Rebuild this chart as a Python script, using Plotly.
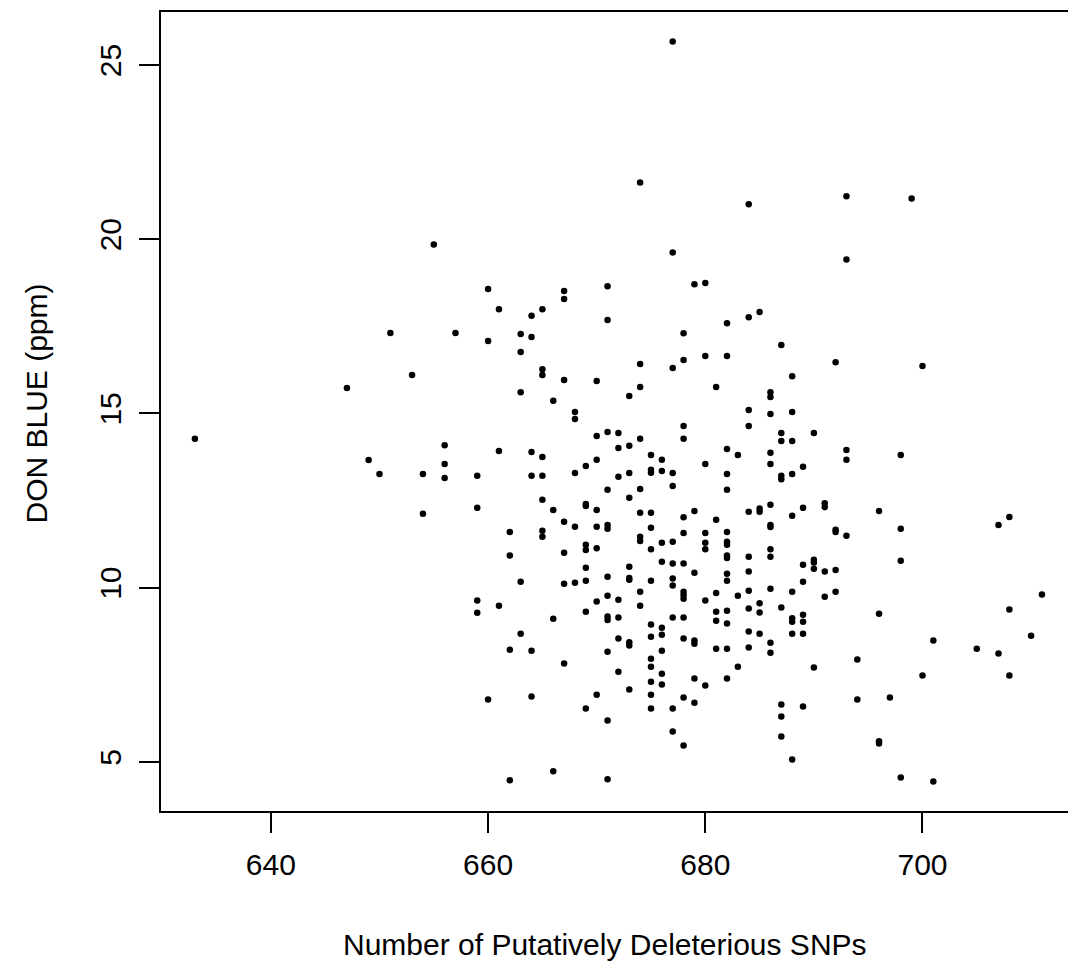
import plotly.graph_objects as go

# Number of putatively deleterious SNPs (x) and DON BLUE ppm (y)
snps = [
    655, 677, 674, 684, 677, 693, 699, 693,
    651, 657, 653, 647, 633, 656, 649, 656, 650, 654, 656, 654,
    660, 667, 667, 671, 679, 680, 661, 665, 664, 671, 684, 685, 682, 663, 664, 678, 660, 663,
    674, 677, 678, 680, 682, 665, 665, 667, 670, 681, 674, 673, 663, 666, 668, 668, 684, 684,
    678, 678, 670, 671, 672, 672, 673, 674, 661, 664, 665, 682, 683, 675, 676, 680, 670, 669,
    668, 659, 664, 665, 673, 672, 675, 675, 676, 677, 682, 674, 677, 671, 682, 673, 665, 659,
    666, 669, 669, 670, 674, 675, 678, 679, 684, 685, 685, 681, 667, 668, 670, 671, 671, 662,
    665, 665, 675, 678, 680, 682, 674, 674, 676, 677, 680, 682, 682, 669, 670, 675, 680,
    662, 667, 682, 682, 684, 669, 669, 673, 676, 677, 678, 679, 682, 684, 663, 667, 668, 669,
    671, 673, 673, 675, 677, 677, 682, 674, 681, 684, 678, 678, 678, 659, 659, 661, 670, 671,
    672, 674, 680, 683, 684, 685, 685, 681, 682, 666, 669, 671, 671, 672, 677, 678, 681, 682,
    675, 676, 663, 675, 676, 684, 685, 672, 673, 673, 678, 679, 679, 662, 664, 671, 676, 681,
    682, 684, 667, 675, 675, 683, 672, 676, 675, 676, 679, 680, 682, 673, 670, 675, 678, 679,
    660, 664, 669, 675, 677, 671, 677, 678, 662, 666, 671,
    687, 692, 700, 688, 686, 686, 686, 688, 687, 687, 688, 690, 686, 686, 693, 693, 698, 689,
    688, 687, 687, 686, 689, 691, 691, 696, 688, 686, 686, 692, 692, 693, 698, 707, 708,
    686, 686, 689, 690, 690, 690, 691, 692, 698, 689, 686, 688, 692, 691, 687, 696, 689, 688,
    688, 689, 711, 708, 688, 689, 701, 710, 705, 707, 686, 686, 690, 694, 700, 708, 694, 697,
    687, 687, 689, 687, 696, 696, 688, 698, 701,
]
don_blue = [
    19.85, 25.67, 21.63, 21.00, 19.62, 21.23, 21.17, 19.42,
    17.31, 17.31, 16.10, 15.73, 14.27, 14.09, 13.66, 13.55, 13.26, 13.26, 13.15, 12.12,
    18.57, 18.51, 18.28, 18.65, 18.71, 18.74, 17.99, 17.99, 17.80, 17.68, 17.76, 17.91, 17.59, 17.28, 17.19, 17.30, 17.08, 16.76,
    16.42, 16.30, 16.53, 16.65, 16.65, 16.27, 16.10, 15.96, 15.93, 15.76, 15.76, 15.50, 15.61, 15.36, 15.04, 14.84, 15.10, 14.64,
    14.64, 14.27, 14.35, 14.47, 14.44, 14.01, 14.07, 14.27, 13.92, 13.89, 13.75, 13.98, 13.81, 13.81, 13.67, 13.55, 13.67, 13.49,
    13.29, 13.21, 13.21, 13.21, 13.29, 13.18, 13.38, 13.30, 13.35, 13.29, 13.26, 12.83, 12.92, 12.81, 12.81, 12.58, 12.52, 12.29,
    12.23, 12.40, 12.34, 12.23, 12.15, 12.15, 12.02, 12.20, 12.18, 12.27, 12.18, 11.95, 11.89, 11.75, 11.75, 11.80, 11.69, 11.60,
    11.63, 11.46, 11.72, 11.57, 11.57, 11.60, 11.46, 11.34, 11.29, 11.32, 11.29, 11.32, 11.23, 11.23, 11.13, 11.10, 11.10,
    10.92, 11.00, 10.92, 10.85, 10.89, 11.08, 10.57, 10.60, 10.74, 10.69, 10.69, 10.43, 10.40, 10.46, 10.17, 10.11, 10.14, 10.20,
    10.31, 10.28, 10.23, 10.20, 10.26, 10.06, 10.20, 9.88, 9.85, 9.91, 9.88, 9.79, 9.68, 9.63, 9.28, 9.48, 9.60, 9.77,
    9.65, 9.48, 9.63, 9.77, 9.40, 9.55, 9.29, 9.31, 9.34, 9.11, 9.31, 9.17, 9.07, 9.14, 9.14, 9.14, 9.05, 8.97,
    8.94, 8.85, 8.68, 8.59, 8.65, 8.74, 8.68, 8.54, 8.43, 8.34, 8.54, 8.48, 8.39, 8.22, 8.19, 8.16, 8.19, 8.25,
    8.25, 8.28, 7.82, 7.96, 7.73, 7.73, 7.59, 7.53, 7.30, 7.22, 7.39, 7.19, 7.39, 7.08, 6.93, 6.93, 6.85, 6.70,
    6.79, 6.88, 6.53, 6.53, 6.53, 6.19, 5.87, 5.47, 4.47, 4.73, 4.50,
    16.96, 16.47, 16.36, 16.07, 15.61, 15.47, 14.98, 15.04, 14.44, 14.21, 14.21, 14.44, 13.87, 13.55, 13.95, 13.67, 13.81, 13.47,
    13.26, 13.21, 13.11, 12.38, 12.29, 12.42, 12.31, 12.20, 12.06, 11.80, 11.74, 11.66, 11.60, 11.49, 11.69, 11.80, 12.03,
    11.10, 10.89, 10.66, 10.80, 10.72, 10.54, 10.46, 10.51, 10.77, 10.17, 9.97, 9.88, 9.88, 9.74, 9.43, 9.25, 9.22, 9.12,
    9.02, 9.02, 9.80, 9.37, 8.68, 8.68, 8.48, 8.62, 8.25, 8.11, 8.42, 8.13, 7.71, 7.94, 7.48, 7.48, 6.79, 6.85,
    6.65, 6.30, 6.59, 5.73, 5.59, 5.53, 5.07, 4.55, 4.44,
]

x_ticks = [640, 660, 680, 700]
y_ticks = [5, 10, 15, 20, 25]
x_title = "Number of Putatively Deleterious SNPs"
y_title = "DON BLUE (ppm)"

# R-style 4% padding of the data range
ymin, ymax = min(don_blue), max(don_blue)
ypad = 0.04 * (ymax - ymin)
xmin, xmax = min(snps), max(snps)
xpad = 0.04 * (xmax - xmin)

FONT = "Liberation Sans, Arial, Helvetica, sans-serif"
FS = 30

fig = go.Figure(
    go.Scatter(
        x=snps, y=don_blue, mode="markers",
        marker=dict(color="black", size=6.5, line=dict(width=0)),
        hoverinfo="x+y",
    )
)

fig.update_layout(
    width=1068, height=966,
    margin=dict(l=161, r=0, t=12, b=155),
    paper_bgcolor="white", plot_bgcolor="white",
    showlegend=False,
    font=dict(family=FONT, size=FS, color="black"),
    xaxis=dict(
        range=[xmin - xpad, 713.4],
        tickmode="array", tickvals=x_ticks, ticktext=[str(v) for v in x_ticks],
        ticks="outside", ticklen=20, tickwidth=1.5, tickcolor="black",
        showline=True, linecolor="black", linewidth=1.5, mirror=True,
        showgrid=False, zeroline=False,
        tickfont=dict(family=FONT, size=FS, color="black"),
        ticklabelstandoff=6,
    ),
    yaxis=dict(
        range=[ymin - ypad, ymax + ypad],
        tickmode="array", tickvals=y_ticks, ticktext=[str(v) for v in y_ticks],
        ticks="outside", ticklen=20, tickwidth=1.5, tickcolor="black",
        showline=True, linecolor="black", linewidth=1.5, mirror=False,
        showgrid=False, zeroline=False,
        tickangle=-90,
        tickfont=dict(family=FONT, size=FS, color="black"),
        ticklabelstandoff=6,
    ),
    annotations=[
        dict(text=x_title, xref="paper", yref="paper", x=0.49, y=0,
             yshift=-133, xanchor="center", yanchor="middle", showarrow=False,
             font=dict(family=FONT, size=FS, color="black")),
        dict(text=y_title, xref="paper", yref="paper", x=0, y=0.51,
             xshift=-124, xanchor="center", yanchor="middle", showarrow=False,
             textangle=-90,
             font=dict(family=FONT, size=FS, color="black")),
    ],
)

fig.write_html("out.html")
